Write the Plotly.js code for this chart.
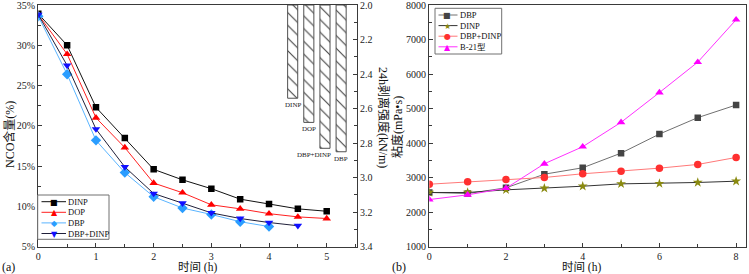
<!DOCTYPE html>
<html><head><meta charset="utf-8">
<script src="https://cdn.plot.ly/plotly-3.0.1.min.js"></script>
<style>html,body{margin:0;padding:0;background:#fff}#chart{width:749px;height:274px}</style>
</head><body><div id="chart"></div>
<script>
// ---- Panel (a): NCO content vs time ----
const timeA = [0, 0.5, 1, 1.5, 2, 2.5, 3, 3.5, 4, 4.5, 5];
const ncoDINP = [33.9, 30.0, 22.3, 18.5, 14.6, 13.3, 12.2, 10.9, 10.3, 9.7, 9.4];
const ncoDOP = [33.8, 28.9, 21.0, 17.3, 12.9, 11.7, 10.2, 9.7, 9.1, 8.7, 8.5];
const ncoDBP = [33.6, 26.4, 18.2, 14.2, 11.2, 9.8, 9.0, 8.1, 7.5];
const ncoDBPDINP = [33.8, 27.5, 19.6, 14.9, 11.6, 10.4, 9.2, 8.5, 8.0, 7.6];
// 24h peel strength (hanging bars on right axis)
const peelNames = ['DINP', 'DOP', 'DBP+DINP', 'DBP'];
const peelX = [4.41, 4.69, 4.97, 5.25];
const peelStrength = [2.54, 2.68, 2.83, 2.85];
// ---- Panel (b): viscosity vs time ----
const timeB = [0, 1, 2, 3, 4, 5, 6, 7, 8];
const viscDBP = [2570, 2540, 2705, 3100, 3286, 3710, 4262, 4738, 5104];
const viscDINP = [2570, 2570, 2647, 2694, 2752, 2820, 2830, 2860, 2897];
const viscDBPDINP = [2810, 2880, 2946, 3005, 3112, 3188, 3275, 3382, 3585];
const viscB21 = [2365, 2502, 2694, 3402, 3896, 4602, 5464, 6345, 7573];
const namesA = ['DINP', 'DOP', 'DBP', 'DBP+DINP'];
const namesB = ['DBP', 'DINP', 'DBP+DINP', 'B-21型'];

const serif = '"Liberation Serif", "Times New Roman", "Noto Sans CJK SC", serif';
const axCol = '#3a3a3a';
const W = px => px / 749;
const H = py => 1 - py / 274;

const stylesA = [
  {line: '#111111', marker: '#000000', symbol: 'square', glyph: '■', size: 6.5},
  {line: '#ff2020', marker: '#ff0000', symbol: 'triangle-up', glyph: '▲', size: 7.5},
  {line: '#5ab4ff', marker: '#2a9dff', symbol: 'diamond', glyph: '◆', size: 8},
  {line: '#20203a', marker: '#1010ff', symbol: 'triangle-down', glyph: '▼', size: 7.5}
];
const stylesB = [
  {line: '#707070', marker: '#444444', symbol: 'square', glyph: '■', size: 6.5},
  {line: '#333333', marker: '#8a8a10', symbol: 'star', glyph: '★', size: 7.5},
  {line: '#ff7878', marker: '#ff3030', symbol: 'circle', glyph: '●', size: 7.5},
  {line: '#ff30ff', marker: '#ff00ff', symbol: 'triangle-up', glyph: '▲', size: 7.5}
];

const seriesA = [ncoDINP, ncoDOP, ncoDBP, ncoDBPDINP];
const seriesB = [viscDBP, viscDINP, viscDBPDINP, viscB21];

const traces = [];
traces.push({
  type: 'bar', x: peelX, y: peelStrength.map(v => v - 2.0), base: 2.0, width: 0.175,
  xaxis: 'x', yaxis: 'y2', showlegend: false, hoverinfo: 'skip',
  marker: {color: '#ffffff', line: {color: '#505050', width: 1},
    pattern: {shape: '\\', fgcolor: '#404040', bgcolor: '#ffffff', size: 9, solidity: 0.12}}
});
seriesA.forEach((s, i) => {
  const st = stylesA[i];
  traces.push({
    type: 'scatter', mode: 'lines+markers', name: namesA[i],
    x: timeA.slice(0, s.length), y: s, xaxis: 'x', yaxis: 'y', showlegend: false,
    line: {color: st.line, width: 1}, marker: {symbol: st.symbol, color: st.marker, size: st.size}
  });
});
seriesB.forEach((s, i) => {
  const st = stylesB[i];
  traces.push({
    type: 'scatter', mode: 'lines+markers', name: namesB[i],
    x: timeB.slice(0, s.length), y: s, xaxis: 'x3', yaxis: 'y3', showlegend: false,
    line: {color: st.line, width: 1}, marker: {symbol: st.symbol, color: st.marker, size: st.size}
  });
});

const tickFont = {family: serif, size: 10, color: '#222'};
function ax(extra) {
  return Object.assign({
    showline: true, linecolor: axCol, linewidth: 1.3, mirror: true,
    ticks: 'inside', ticklen: 4, tickcolor: axCol, tickwidth: 1,
    showgrid: false, zeroline: false, tickfont: tickFont, ticklabeloverflow: 'allow'
  }, extra);
}

const shapes = [];
const annotations = [];
function txt(text, x, y, size, opts) {
  annotations.push(Object.assign({text: text, x: x, y: y, xref: 'paper', yref: 'paper',
    showarrow: false, font: {family: serif, size: size, color: '#111'},
    xanchor: 'center', yanchor: 'middle', borderpad: 0}, opts || {}));
}
// custom compact legends
function legend(names, styles, box, rowY0, rowStep, lineX0, lineX1, glyphX, textX) {
  shapes.push({type: 'rect', xref: 'paper', yref: 'paper', x0: W(box[0]), x1: W(box[1]),
    y0: H(box[3]), y1: H(box[2]), line: {color: '#707070', width: 1}, fillcolor: '#ffffff', layer: 'above'});
  names.forEach((n, i) => {
    const yy = rowY0 + i * rowStep;
    shapes.push({type: 'line', xref: 'paper', yref: 'paper', x0: W(lineX0), x1: W(lineX1),
      y0: H(yy), y1: H(yy), line: {color: styles[i].line, width: 1}, layer: 'above'});
    annotations.push({text: styles[i].glyph, x: W(glyphX), y: H(yy + 0.5), xref: 'paper', yref: 'paper',
      showarrow: false, font: {family: 'DejaVu Sans', size: 8, color: styles[i].marker},
      xanchor: 'center', yanchor: 'middle'});
    txt(n, W(textX), H(yy), 8.5, {xanchor: 'left'});
  });
}
legend(namesA, stylesA, [37.7, 109, 195, 239.3], 201.7, 10.6, 41.5, 66, 54, 66.5);
legend(namesB, stylesB, [435, 501.7, 8.3, 54], 15, 10.6, 438.5, 457.5, 447, 458.5);

// bar labels
const labShift = [0, 0, -11, 0];
peelNames.forEach((n, i) => {
  annotations.push({text: n, x: peelX[i], y: peelStrength[i], xref: 'x', yref: 'y2',
    showarrow: false, xanchor: 'center', yanchor: 'top', xshift: labShift[i], yshift: -1,
    font: {family: serif, size: 7, color: '#222'}});
});

// titles
txt('(a)', W(8), H(267), 12);
txt('(b)', W(399), H(267), 12);
txt('时间 (h)', W(197), H(267.5), 11.5);
txt('时间 (h)', W(581), H(267.5), 11.5);
txt('NCO含量(%)', W(9), H(135), 12, {textangle: -90});
txt('24h剥离强度(kN/m)', W(384), H(117), 12, {textangle: 90});
txt('粘度(mPa•s)', W(398), H(127), 12, {textangle: -90});

const yDom = [H(246.7), H(5)];
const layout = {
  width: 749, height: 274, margin: {l: 0, r: 0, t: 0, b: 0},
  paper_bgcolor: '#fff', plot_bgcolor: '#fff', showlegend: false,
  font: {family: serif, color: '#222'},
  xaxis: ax({domain: [W(38.3), W(356.7)], range: [0, 5.52], anchor: 'y', dtick: 1, tick0: 0,
    minor: {ticks: 'inside', ticklen: 2.5, dtick: 0.5, tick0: 0, tickcolor: axCol}}),
  yaxis: ax({domain: yDom, range: [5, 35], anchor: 'x', dtick: 5, tick0: 5, ticksuffix: '%',
    minor: {ticks: 'inside', ticklen: 2.5, dtick: 2.5, tick0: 5, tickcolor: axCol}}),
  yaxis2: ax({overlaying: 'y', side: 'right', anchor: 'x', range: [3.4, 2.0], dtick: 0.2, tick0: 2.0,
    tickformat: '.1f', mirror: false,
    minor: {ticks: 'inside', ticklen: 2.5, dtick: 0.1, tick0: 2.0, tickcolor: axCol}}),
  xaxis3: ax({domain: [W(429.3), W(745.7)], range: [0, 8.25], anchor: 'y3', dtick: 2, tick0: 0,
    minor: {ticks: 'inside', ticklen: 2.5, dtick: 1, tick0: 0, tickcolor: axCol}}),
  yaxis3: ax({domain: yDom, range: [1000, 8000], anchor: 'x3', dtick: 1000, tick0: 1000,
    minor: {ticks: 'inside', ticklen: 2.5, dtick: 500, tick0: 1000, tickcolor: axCol}}),
  shapes: shapes,
  annotations: annotations
};

Plotly.newPlot('chart', traces, layout, {displayModeBar: false, staticPlot: true});
</script>
</body></html>
